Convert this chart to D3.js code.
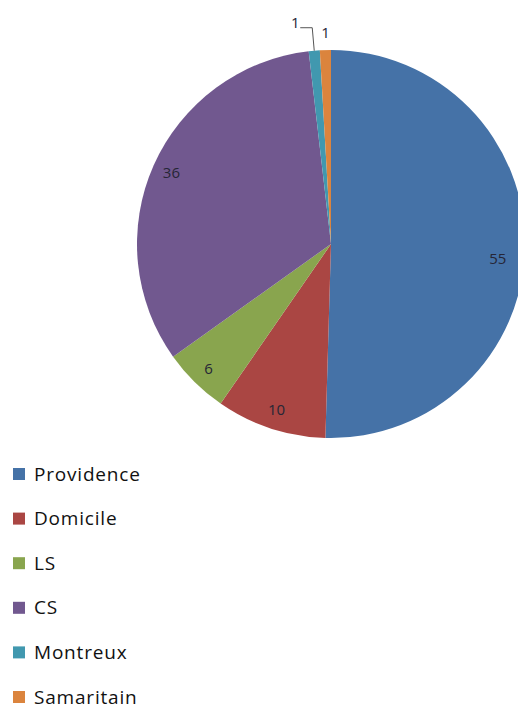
<!DOCTYPE html>
<html>
<head>
<meta charset="utf-8">
<script src="https://cdn.jsdelivr.net/npm/d3@7"></script>
<style>
  body { margin: 0; background: #fff; }
  svg { display: block; }
</style>
</head>
<body>
<div id="chart"></div>
<script>
(function () {

    const categories = ['Providence', 'Domicile', 'LS', 'CS', 'Montreux', 'Samaritain']
    const values = [55, 10, 6, 36, 1, 1]
    const colors = ['#4572A7', '#AA4643', '#89A54E', '#71588F', '#4198AF', '#DB843D']

    const width = 518
    const height = 704

    const svg = d3.select('#chart')
        .append('svg')
        .attr('width', width)
        .attr('height', height)

    const cx = 331, cy = 244, radius = 194

    const data = categories.map((c, i) => ({ name: c, value: values[i], color: colors[i] }))

    const pie = d3.pie().sort(null).value(d => d.value)
    const arcs = pie(data)

    const arc = d3.arc().innerRadius(0).outerRadius(radius)
    const labelArc = d3.arc().innerRadius(radius * 0.9).outerRadius(radius * 0.9)
    const bigLabelArc = d3.arc().innerRadius(radius * 0.86).outerRadius(radius * 0.86)

    const g = svg.append('g').attr('transform', `translate(${cx},${cy})`)

    g.selectAll('path')
        .data(arcs)
        .join('path')
        .attr('d', arc)
        .attr('fill', d => d.data.color)

    const labelFont = '"Open Sans", sans-serif'
    const labelColor = '#262636'

    // big slices: label inside (the half-pie slice sits a bit deeper, like excel's best fit)
    g.selectAll('text.inner')
        .data(arcs.filter(d => d.data.value > 2))
        .join('text')
        .attr('class', 'inner')
        .attr('transform', d => {
            const c = (d.endAngle - d.startAngle > Math.PI ? bigLabelArc : labelArc).centroid(d)
            if (d.endAngle - d.startAngle > Math.PI) c[1] += 12
            return `translate(${c})`
        })
        .attr('text-anchor', 'middle')
        .attr('dy', '0.35em')
        .style('font-family', labelFont)
        .style('font-size', '15px')
        .style('fill', labelColor)
        .text(d => d.data.value)

    // the two tiny slices get labels outside the pie
    const montreux = arcs[4], samaritain = arcs[5]
    const outerPt = a => {
        const ang = (a.startAngle + a.endAngle) / 2
        return [radius * Math.sin(ang), -radius * Math.cos(ang)]
    }

    const pm = outerPt(montreux)
    g.append('path')
        .attr('d', d3.line()([[pm[0], pm[1]], [pm[0] - 2, pm[1] - 23], [pm[0] - 14, pm[1] - 23]]))
        .attr('fill', 'none')
        .attr('stroke', '#555')
        .attr('stroke-width', 1)

    g.append('text')
        .attr('x', pm[0] - 19)
        .attr('y', pm[1] - 28)
        .attr('text-anchor', 'middle')
        .attr('dy', '0.35em')
        .style('font-family', labelFont)
        .style('font-size', '15px')
        .style('fill', labelColor)
        .text(montreux.data.value)

    const ps = outerPt(samaritain)
    g.append('text')
        .attr('x', ps[0])
        .attr('y', ps[1] - 17)
        .attr('text-anchor', 'middle')
        .attr('dy', '0.35em')
        .style('font-family', labelFont)
        .style('font-size', '15px')
        .style('fill', labelColor)
        .text(samaritain.data.value)

    // legend
    const legendY = d3.scalePoint().domain(categories).range([474, 697])

    const legend = svg.append('g')
        .selectAll('g')
        .data(data)
        .join('g')
        .attr('transform', d => `translate(13,${legendY(d.name)})`)

    legend.append('rect')
        .attr('x', 0)
        .attr('y', -6)
        .attr('width', 12)
        .attr('height', 12)
        .attr('fill', d => d.color)

    legend.append('text')
        .attr('x', 21)
        .attr('dy', '0.35em')
        .style('font-family', '"Open Sans", sans-serif')
        .style('font-size', '19px')
        .style('letter-spacing', '0.8px')
        .style('fill', '#111')
        .text(d => d.name)

})();
</script>
</body>
</html>
